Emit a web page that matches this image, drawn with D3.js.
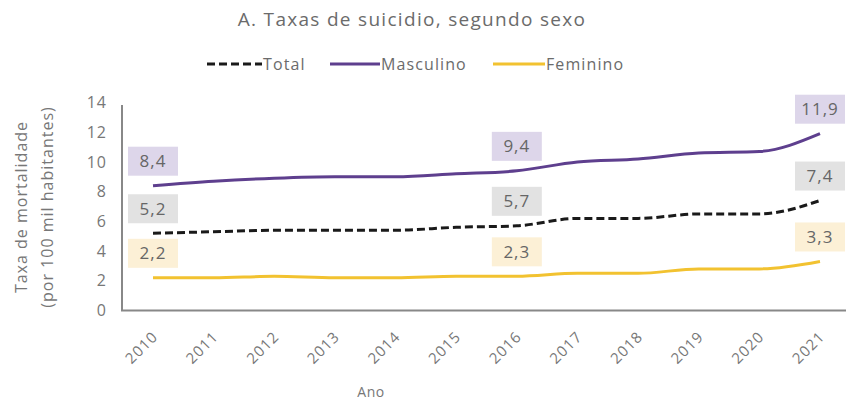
<!DOCTYPE html>
<html>
<head>
<meta charset="utf-8">
<script src="https://cdn.jsdelivr.net/npm/d3@7"></script>
<style>
  body { margin: 0; background: #fff; }
  svg { display: block; font-family: "Open Sans", Lato, sans-serif; }
</style>
</head>
<body>
<svg id="chart" width="847" height="402"></svg>
<script>
// Suicide rates per 100k inhabitants, by sex
const years = ["2010","2011","2012","2013","2014","2015","2016","2017","2018","2019","2020","2021"];
const total = [5.2, 5.3, 5.4, 5.4, 5.4, 5.6, 5.7, 6.2, 6.2, 6.5, 6.5, 7.4];
const masculino = [8.4, 8.7, 8.9, 9.0, 9.0, 9.2, 9.4, 10.0, 10.2, 10.6, 10.7, 11.9];
const feminino = [2.2, 2.2, 2.3, 2.2, 2.2, 2.3, 2.3, 2.5, 2.5, 2.8, 2.8, 3.3];
const yTicks = [0, 2, 4, 6, 8, 10, 12, 14];
const labelledYears = ["2010", "2016", "2021"];

const series = [
  { name: "Total", values: total, color: "#1a1a1a", dash: "8,4", box: "#e2e2e2" },
  { name: "Masculino", values: masculino, color: "#5e3f8e", dash: null, box: "#ddd6ea" },
  { name: "Feminino", values: feminino, color: "#f2c230", dash: null, box: "#fcf0d6" }
];

const svg = d3.select("#chart");
const x = d3.scalePoint().domain(years).range([153, 820]);
const y = d3.scaleLinear().domain([0, 14]).range([310.5, 102.5]);
const textGray = "#6b6b6b";

// Title
svg.append("text")
  .attr("x", 412).attr("y", 26)
  .attr("text-anchor", "middle")
  .attr("font-size", 19).attr("letter-spacing", 1.3).attr("fill", textGray)
  .text("A. Taxas de suicidio, segundo sexo");

// Legend
const legendItems = [
  { s: series[0], x0: 207, x1: 262 },
  { s: series[1], x0: 330, x1: 380 },
  { s: series[2], x0: 493, x1: 545 }
];
const lg = svg.append("g");
legendItems.forEach(d => {
  lg.append("line")
    .attr("x1", d.x0).attr("x2", d.x1).attr("y1", 64).attr("y2", 64)
    .attr("stroke", d.s.color).attr("stroke-width", 3)
    .attr("stroke-dasharray", d.s.dash);
  lg.append("text")
    .attr("x", d.x1 + 1).attr("y", 70)
    .attr("font-size", 16).attr("letter-spacing", 1.1).attr("fill", textGray)
    .text(d.s.name);
});

// Axes
const yAxis = d3.axisLeft(y).tickValues(yTicks).tickSize(0).tickPadding(15);
svg.append("g")
  .attr("transform", "translate(122,0)")
  .call(yAxis)
  .call(g => g.select(".domain").remove())
  .call(g => g.selectAll("text")
    .attr("font-size", 16).attr("letter-spacing", 1)
    .attr("fill", "#777").attr("font-family", "'Open Sans', sans-serif"));

svg.append("line")
  .attr("x1", 122).attr("x2", 122).attr("y1", 105).attr("y2", y(0))
  .attr("stroke", "#888").attr("stroke-width", 2);
svg.append("line")
  .attr("x1", 121).attr("x2", 846).attr("y1", y(0)).attr("y2", y(0))
  .attr("stroke", "#888").attr("stroke-width", 2);

// X tick labels, rotated
svg.append("g").selectAll("text")
  .data(years)
  .join("text")
  .attr("transform", d => `translate(${x(d) + 2},${334}) rotate(-45)`)
  .attr("text-anchor", "end")
  .attr("dy", "0.35em")
  .attr("font-size", 15).attr("letter-spacing", 1).attr("fill", "#777")
  .text(d => d);

// Axis titles
svg.append("text")
  .attr("x", 371).attr("y", 397)
  .attr("text-anchor", "middle")
  .attr("font-size", 14).attr("letter-spacing", 0.5).attr("fill", "#777")
  .text("Ano");

const yt = svg.append("text")
  .attr("transform", "translate(27,207) rotate(-90)")
  .attr("text-anchor", "middle")
  .attr("font-size", 16).attr("letter-spacing", 1).attr("fill", "#777");
yt.append("tspan").attr("x", 0).attr("dy", 0).text("Taxa de mortalidade");
yt.append("tspan").attr("x", 0).attr("dy", 26).text("(por 100 mil habitantes)");

// Lines
const line = d3.line().x((d, i) => x(years[i])).y(d => y(d)).curve(d3.curveMonotoneX);
series.forEach(s => {
  svg.append("path")
    .datum(s.values)
    .attr("fill", "none")
    .attr("stroke", s.color)
    .attr("stroke-width", 3)
    .attr("stroke-dasharray", s.dash)
    .attr("d", line);
});

// Value labels in boxes
const boxW = 50, boxH = 29, gap = 10;
series.forEach(s => {
  labelledYears.forEach(yr => {
    const i = years.indexOf(yr);
    const v = s.values[i];
    const cx = x(yr), bottom = y(v) - gap;
    svg.append("rect")
      .attr("x", cx - boxW / 2).attr("y", bottom - boxH)
      .attr("width", boxW).attr("height", boxH)
      .attr("fill", s.box);
    svg.append("text")
      .attr("x", cx).attr("y", bottom - boxH / 2)
      .attr("dy", "0.35em")
      .attr("text-anchor", "middle")
      .attr("font-size", 17).attr("letter-spacing", 1).attr("fill", "#666")
      .text(d3.format(".1f")(v).replace(".", ","));
  });
});
</script>
</body>
</html>
